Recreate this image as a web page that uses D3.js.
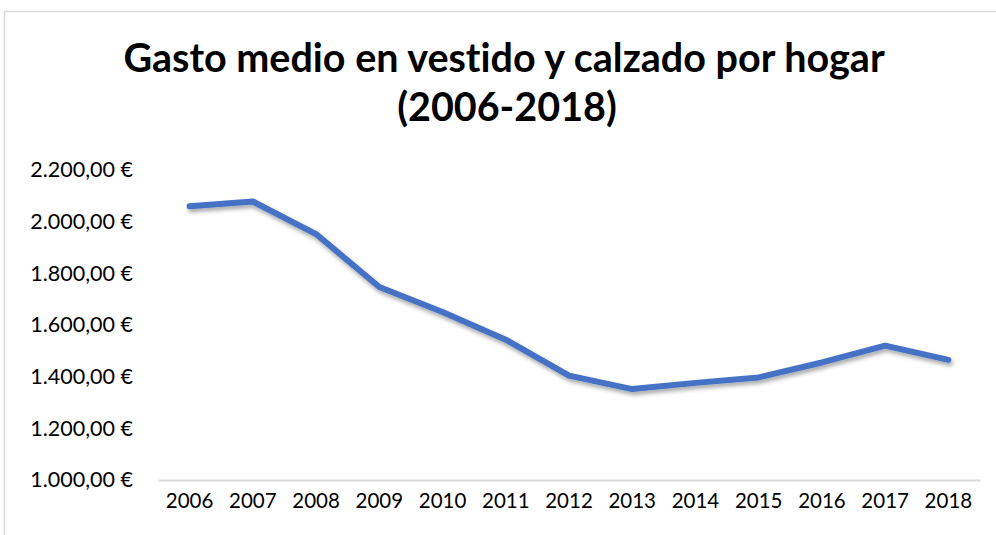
<!DOCTYPE html>
<html>
<head>
<meta charset="utf-8">
<script src="https://cdn.jsdelivr.net/npm/d3@7"></script>
<style>
  body { margin: 0; background: #fff; }
  svg { display: block; }
  text { font-variant-ligatures: none; }
</style>
</head>
<body>
<div id="chart"></div>
<script>
// data
const years = ["2006", "2007", "2008", "2009", "2010", "2011", "2012",
               "2013", "2014", "2015", "2016", "2017", "2018"];
const gasto = [2060, 2078, 1952, 1747, 1650, 1543, 1404,
               1352, 1376, 1397, 1455, 1520, 1465];
const yTicks = [1000, 1200, 1400, 1600, 1800, 2000, 2200];
const titleLines = ["Gasto medio en vestido y calzado por hogar", "(2006-2018)"];

const width = 996;
const height = 535;

const svg = d3.select("#chart")
    .append("svg")
        .attr("width", width)
        .attr("height", height);

// chart frame (only top and left edges are visible in the picture)
svg.append("rect")
    .attr("x", 4.5)
    .attr("y", 11.5)
    .attr("width", 1100)
    .attr("height", 700)
    .attr("fill", "none")
    .attr("stroke", "#d9d9d9")
    .attr("stroke-width", 1.5);

// title
svg.append("g")
    .selectAll("text")
    .data(titleLines)
    .enter()
    .append("text")
        .attr("x", (d, i) => i === 0 ? 504 : 507)
        .attr("y", (d, i) => 72 + i * 49)
        .attr("text-anchor", "middle")
        .style("font-family", "Lato, 'Open Sans', sans-serif")
        .style("font-weight", "bold")
        .style("font-size", "39.5px")
        .attr("fill", "#000")
        .text(d => d);

//scales
const x = d3.scaleBand()
    .domain(years)
    .range([158, 980]);

const y = d3.scaleLinear()
    .domain([1000, 2200])
    .range([480, 170]);

//euro format like "2.200,00 €"
const es = d3.formatLocale({
    decimal: ",",
    thousands: ".",
    grouping: [3],
    currency: ["", " €"]
});
const fmt = es.format("$,.2f");

//y axis labels only, no line or gridlines
const yAxis = svg.append("g")
    .attr("transform", "translate(133,0)")
    .call(d3.axisLeft(y).tickValues(yTicks).tickFormat(fmt).tickSize(0).tickPadding(0));
yAxis.select(".domain").remove();
yAxis.selectAll("text")
    .style("font-family", "Lato, 'Open Sans', sans-serif")
    .style("font-size", "21.5px")
    .attr("fill", "#000");

//x axis
const xAxis = svg.append("g")
    .attr("transform", "translate(0,480)")
    .call(d3.axisBottom(x).tickSize(0).tickPadding(13));
xAxis.select(".domain")
    .attr("stroke", "#d9d9d9")
    .attr("stroke-width", 2);
xAxis.selectAll("text")
    .style("font-family", "Lato, 'Open Sans', sans-serif")
    .style("font-size", "20.5px")
    .attr("fill", "#000");

//soft shadow under the line
const defs = svg.append("defs");
const shadow = defs.append("filter")
    .attr("id", "shadow")
    .attr("x", "-10%").attr("y", "-10%")
    .attr("width", "120%").attr("height", "130%");
shadow.append("feDropShadow")
    .attr("dx", 1.5)
    .attr("dy", 3)
    .attr("stdDeviation", 2)
    .attr("flood-color", "#000")
    .attr("flood-opacity", 0.35);

const line = d3.line()
    .x((d, i) => x(years[i]) + x.bandwidth() / 2)
    .y(d => y(d));

svg.append("path")
    .datum(gasto)
    .attr("d", line)
    .attr("fill", "none")
    .attr("stroke", "#4472c4")
    .attr("stroke-width", 6)
    .attr("stroke-linecap", "round")
    .attr("stroke-linejoin", "round")
    .attr("filter", "url(#shadow)");
</script>
</body>
</html>
